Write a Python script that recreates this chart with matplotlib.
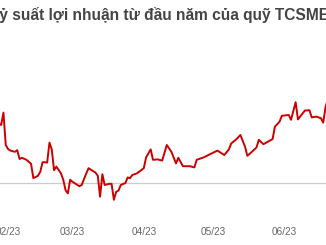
from datetime import datetime, timedelta

import matplotlib
matplotlib.use("Agg")
from matplotlib import pyplot as plt
import matplotlib.dates as mdates

TITLE = "Tỷ suất lợi nhuận từ đầu năm của quỹ TCSME"

# trading dates and YTD return in %
dates = [
    "2023-01-27", "2023-01-29", "2023-01-30", "2023-01-31", "2023-02-01",
    "2023-02-02", "2023-02-04", "2023-02-05", "2023-02-06", "2023-02-07",
    "2023-02-09", "2023-02-11", "2023-02-12", "2023-02-14", "2023-02-15",
    "2023-02-16", "2023-02-17", "2023-02-18", "2023-02-19", "2023-02-20",
    "2023-02-21", "2023-02-22", "2023-02-24", "2023-02-25", "2023-02-26",
    "2023-02-27", "2023-02-28", "2023-03-01", "2023-03-04", "2023-03-05",
    "2023-03-07", "2023-03-08", "2023-03-11", "2023-03-12", "2023-03-13",
    "2023-03-14", "2023-03-15", "2023-03-17", "2023-03-18", "2023-03-19",
    "2023-03-20", "2023-03-21", "2023-03-22", "2023-03-24", "2023-03-25",
    "2023-03-26", "2023-03-27", "2023-03-29", "2023-04-01", "2023-04-02",
    "2023-04-04", "2023-04-05", "2023-04-07", "2023-04-09", "2023-04-11",
    "2023-04-13", "2023-04-15", "2023-04-16", "2023-04-18", "2023-04-21",
    "2023-04-23", "2023-04-24", "2023-04-27", "2023-05-03", "2023-05-06",
    "2023-05-08", "2023-05-09", "2023-05-11", "2023-05-13", "2023-05-15",
    "2023-05-16", "2023-05-18", "2023-05-20", "2023-05-21", "2023-05-23",
    "2023-05-27", "2023-05-28", "2023-05-30", "2023-05-31", "2023-06-03",
    "2023-06-04", "2023-06-06", "2023-06-07", "2023-06-10", "2023-06-12",
    "2023-06-13", "2023-06-15", "2023-06-17", "2023-06-18", "2023-06-19",
    "2023-06-20",
]
returns = [
    7.6, 7.25, 8.8, 4.75, 4.25,
    4.05, 3.9, 4.1, 3.0, 3.15,
    2.9, 2.4, 0.6, 0.9, 1.4,
    2.6, 2.6, 2.55, 5.05, 4.2,
    1.6, 2.05, 1.2, 0.4, -0.9,
    -1.3, 0.4, 0.15, -0.4, -0.25,
    1.2, 1.85, 1.3, 0.9, -1.7,
    1.1, -0.25, -0.1, -0.1, -2.1,
    -1.1, -0.95, -0.25, 0.0, 0.7,
    0.6, 1.0, 1.2, 1.85, 3.2,
    4.2, 2.9, 2.95, 2.8, 4.75,
    3.9, 2.45, 3.15, 2.1, 2.1,
    1.95, 2.9, 3.2, 4.05, 3.5,
    4.2, 4.95, 5.4, 6.0, 4.55,
    3.4, 3.9, 4.45, 5.4, 4.85,
    5.5, 7.05, 7.65, 8.4, 8.5,
    7.9, 10.1, 7.95, 9.05, 9.1,
    8.2, 8.3, 8.1, 7.55, 9.5,
    10.5,
]

x = [datetime.strptime(d, "%Y-%m-%d") for d in dates]

fig = plt.figure(figsize=(3.26, 2.45), dpi=100)
ax = fig.add_axes([0, 1 - 222 / 245, 1, (222 - 35) / 245])

# zero line and the return line
ax.axhline(0, color="#cccccc", lw=0.9, zorder=1)
ax.plot(x, returns, color="#cc0000", lw=1.4, zorder=2)

mar1 = datetime(2023, 3, 1)
ax.set_xlim(mar1 - timedelta(days=31.5), mar1 + timedelta(days=110.2))
ax.set_ylim((183 - 222) / 8, (183 - 35) / 8)

ax.xaxis.set_major_locator(mdates.MonthLocator())
ax.xaxis.set_major_formatter(mdates.DateFormatter("%m/%y"))
ax.tick_params(axis="x", length=0, pad=3.5, labelsize=7.2, labelcolor="#666666")
for lbl in ax.get_xticklabels():
    lbl.set_fontfamily("Liberation Sans")
ax.set_yticks([])
for s in ax.spines.values():
    s.set_visible(False)

# title is cut at both edges in the original crop
fig.text(-10 / 326, 1 - 15 / 245, TITLE, ha="left", va="center",
         fontsize=11.2, fontweight="bold", color="#444444",
         fontfamily="Liberation Sans")

fig.savefig("out.png", dpi=100)
